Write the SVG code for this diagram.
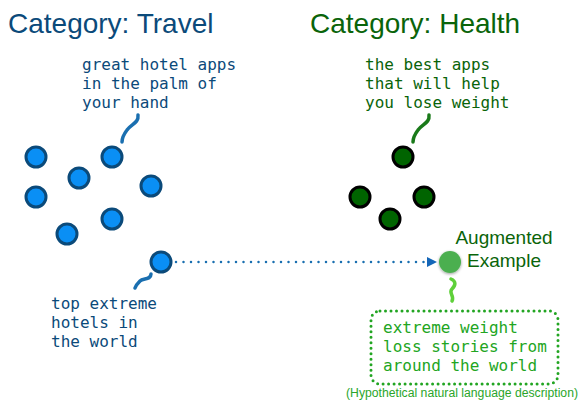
<svg xmlns="http://www.w3.org/2000/svg" width="583" height="403" viewBox="0 0 583 403">
<defs>
<style>
.title{font-family:"Liberation Sans",Arial,sans-serif;font-size:28px}
.mono{font-family:"DejaVu Sans Mono","Liberation Mono",monospace;font-size:16px}
.sans{font-family:"Liberation Sans",Arial,sans-serif}
.blue{fill:#0a8ff5;stroke:#0b4a7a;stroke-width:3}
.green{fill:#006400;stroke:#000;stroke-width:3}
.sq{fill:none;stroke-width:3.5;stroke-linecap:round}
</style>
<marker id="arr" viewBox="0 0 10 10" refX="0" refY="5" markerWidth="10" markerHeight="10" markerUnits="userSpaceOnUse" orient="auto">
<path d="M0,0 L10,5 L0,10 Z" fill="#1466b8"/>
</marker>
<filter id="glow" x="-50%" y="-50%" width="200%" height="200%">
<feGaussianBlur in="SourceAlpha" stdDeviation="1.5"/>
<feOffset dy="1"/>
<feComponentTransfer><feFuncA type="linear" slope="0.4"/></feComponentTransfer>
<feMerge><feMergeNode/><feMergeNode in="SourceGraphic"/></feMerge>
</filter>
</defs>
<rect width="583" height="403" fill="#fff"/>

<g id="title-travel"><text class="title" x="8" y="33" fill="#0b4a7a">Category: Travel</text></g>
<g id="title-health"><text class="title" x="310" y="33" fill="#0a640a">Category: Health</text></g>

<g id="label-travel" class="mono" fill="#0b4a7a">
<text x="82" y="70">great hotel apps</text>
<text x="82" y="89">in the palm of</text>
<text x="82" y="108">your hand</text>
</g>
<g id="label-health" class="mono" fill="#0a640a">
<text x="365" y="70">the best apps</text>
<text x="365" y="89">that will help</text>
<text x="365" y="108">you lose weight</text>
</g>
<g id="label-extreme" class="mono" fill="#0b4a7a">
<text x="51" y="309">top extreme</text>
<text x="51" y="328">hotels in</text>
<text x="51" y="347">the world</text>
</g>

<g id="travel-points">
<circle class="blue" cx="36" cy="157" r="10"/>
<circle class="blue" cx="112" cy="157" r="10"/>
<circle class="blue" cx="79" cy="178" r="10"/>
<circle class="blue" cx="151" cy="186" r="10"/>
<circle class="blue" cx="36" cy="197" r="10"/>
<circle class="blue" cx="112" cy="219" r="10"/>
<circle class="blue" cx="67" cy="234" r="10"/>
</g>
<g id="travel-source"><circle class="blue" cx="161" cy="262" r="10"/></g>

<g id="health-points">
<circle class="green" cx="403" cy="157" r="10"/>
<circle class="green" cx="360" cy="197" r="10"/>
<circle class="green" cx="424" cy="197" r="10"/>
<circle class="green" cx="390" cy="219" r="10"/>
</g>

<g id="augmented">
<circle cx="450" cy="262" r="11" fill="#4caf50" filter="url(#glow)"/>
<text class="sans" font-size="19" fill="#0a640a" text-anchor="middle" x="504" y="244">Augmented</text>
<text class="sans" font-size="19" fill="#0a640a" text-anchor="middle" x="504" y="267">Example</text>
</g>

<g id="description">
<rect x="371" y="311" width="187" height="73" rx="9" fill="none" stroke="#22a522" stroke-width="3" stroke-dasharray="0 5.5" stroke-linecap="round"/>
<g class="mono" fill="#22a522">
<text x="383" y="333">extreme weight</text>
<text x="383" y="352">loss stories from</text>
<text x="383" y="371">around the world</text>
</g>
<text class="sans" font-size="12.5" fill="#2aa52a" x="346" y="397" textLength="232" lengthAdjust="spacingAndGlyphs">(Hypothetical natural language description)</text>
</g>

<g id="connectors">
<path class="sq" stroke="#1a6fb0" d="M138,115 C139,123 131,124 127,130 C124,134 122,137 122,142"/>
<path class="sq" stroke="#1a7a1a" d="M429,115 C430,123 422,124 418,130 C415,134 413,137 413,142"/>
<path class="sq" stroke="#1a6fb0" d="M151,274 C151,280 143,278 140,281 C137,284 136,285 135,288"/>
<path class="sq" stroke="#5fd03a" d="M451,279 C456,281 456,285 452,289 C448,293 455,296 452,301"/>
<path d="M176,262 L427,262" fill="none" stroke="#1a6fb0" stroke-width="2.5" stroke-dasharray="0 7.5" stroke-linecap="round" marker-end="url(#arr)"/>
</g>
</svg>
